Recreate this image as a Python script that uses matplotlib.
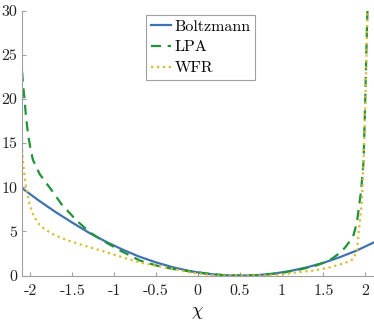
import matplotlib
matplotlib.use('Agg')
import matplotlib.pyplot as plt

plt.rcParams['font.family'] = 'serif'
plt.rcParams['font.serif'] = ['cmr10', 'DejaVu Serif']
plt.rcParams['mathtext.fontset'] = 'cm'
plt.rcParams['axes.unicode_minus'] = False

# Boltzmann
chi_b = [-2.1, -1.9, -1.7, -1.5, -1.3, -1.1, -0.9, -0.7, -0.5, -0.3, -0.1,
         0.1, 0.3, 0.5, 0.7, 0.9, 1.1, 1.3, 1.5, 1.7, 1.9, 2.1]
boltz = [9.9, 8.5, 7.2, 6.0, 4.85, 3.85, 2.95, 2.15, 1.5, 0.95, 0.52,
         0.22, 0.05, 0.0, 0.05, 0.22, 0.52, 0.93, 1.45, 2.1, 2.85, 3.75]

# LPA
chi_l = [-2.1, -2.086, -2.07, -2.055, -2.03, -2.0, -1.97, -1.89, -1.73, -1.63,
         -1.45, -1.29, -1.17, -0.93, -0.69, -0.49, -0.3, -0.1, 0.1, 0.3, 0.5,
         0.7, 0.9, 1.0, 1.2, 1.4, 1.5, 1.6, 1.7, 1.76, 1.8, 1.86, 1.9, 1.92,
         1.95, 1.98, 2.0, 2.02, 2.03]
lpa = [23.1, 21.4, 19.9, 18.2, 16.1, 14.4, 13.1, 11.5, 9.45, 8.1,
       6.25, 4.9, 4.15, 2.85, 1.7, 1.13, 0.76, 0.5, 0.25, 0.06, 0.0,
       0.03, 0.2, 0.3, 0.65, 1.1, 1.45, 1.9, 2.6, 3.2, 3.7, 4.6, 6.0, 7.4,
       9.6, 13.0, 20.0, 28.0, 31.0]

# WFR
chi_w = [-2.1, -2.09, -2.072, -2.052, -2.016, -1.976, -1.916, -1.836, -1.716,
         -1.557, -1.357, -1.158, -0.958, -0.77, -0.65, -0.37, -0.255, -0.1, 0.14,
         0.3, 0.5, 0.8, 1.0, 1.18, 1.38, 1.58, 1.76, 1.86, 1.9, 1.92, 1.94, 1.96,
         1.98, 2.0, 2.03]
wfr = [14.3, 13.0, 11.5, 10.0, 8.3, 7.1, 6.0, 5.3, 4.6,
       4.0, 3.4, 2.84, 2.25, 1.7, 1.4, 0.9, 0.68, 0.37, 0.08,
       0.0, 0.0, 0.02, 0.12, 0.37, 0.57, 0.94, 1.44, 1.9, 2.84, 4.7, 6.6, 8.5,
       13.0, 19.0, 31.0]

xticks = [-2, -1.5, -1, -0.5, 0, 0.5, 1, 1.5, 2]
xticklabels = ['-2', '-1.5', '-1', '-0.5', '0', '0.5', '1', '1.5', '2']
yticks = [0, 5, 10, 15, 20, 25, 30]

fig = plt.figure(figsize=(3.74, 3.22), dpi=100)
ax = fig.add_axes([0.059, 0.144, 0.94, 0.823])

ax.plot(chi_b, boltz, '-', color='#3f72b0', lw=1.6, label='Boltzmann')
ax.plot(chi_l, lpa, '--', color='#1e9436', lw=1.6, dashes=(4.5, 3), label='LPA')
ax.plot(chi_w, wfr, ':', color='#dcbc2c', lw=1.6, label='WFR')

ax.set_xlim(-2.1, 2.1)
ax.set_ylim(0, 30)
ax.set_xticks(xticks)
ax.set_xticklabels(xticklabels)
ax.set_yticks(yticks)
ax.set_xlabel(r'$\chi$', fontsize=13, labelpad=5)

for s in ['top', 'right']:
    ax.spines[s].set_visible(False)
for s in ['left', 'bottom']:
    ax.spines[s].set_color('#a0a0a0')
ax.tick_params(direction='in', length=3, color='#a0a0a0', labelsize=11.5,
               labelcolor='#222222')
ax.tick_params(axis='x', pad=6)

leg = ax.legend(loc='upper left', bbox_to_anchor=(0.352, 0.985), fontsize=11.5,
                handlelength=1.3, handletextpad=0.2, borderpad=0.3,
                labelspacing=0.42, fancybox=False, framealpha=1,
                edgecolor='#a0a0a0', borderaxespad=0)
leg.get_frame().set_linewidth(0.8)

fig.savefig('out.png', dpi=100)
